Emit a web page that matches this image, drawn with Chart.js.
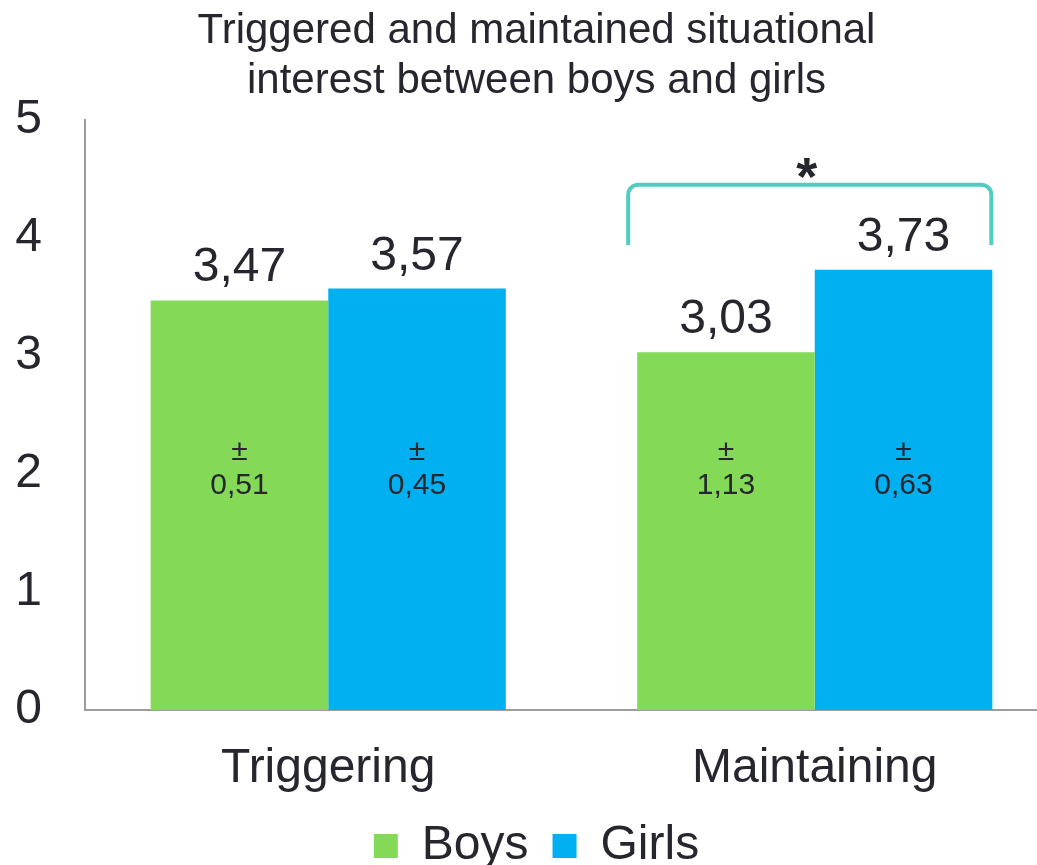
<!DOCTYPE html>
<html>
<head>
<meta charset="utf-8">
<script src="https://cdn.jsdelivr.net/npm/chart.js@4/dist/chart.umd.min.js"></script>
<style>
    html, body { margin: 0; padding: 0; overflow: hidden; background: #fff; }
    #wrap { width: 1087px; height: 880px; }
</style>
</head>
<body>
<div id="wrap"><canvas id="interestChart" width="1087" height="880"></canvas></div>
<script>
const categories = ['Triggering', 'Maintaining'];
const boysMeans = [3.47, 3.03];
const girlsMeans = [3.57, 3.73];
const boysSD = [0.51, 1.13];
const girlsSD = [0.45, 0.63];
const yTicks = [0, 1, 2, 3, 4, 5];

const textColor = '#26262e';
const fontFamily = '"Liberation Sans", Arial, sans-serif';

// value with a decimal comma, like the original
function fmt(v) {
    return v.toFixed(2).replace('.', ',');
}

const labelPlugin = {
    id: 'barLabels',
    afterDatasetsDraw(chart) {
        const ctx = chart.ctx;
        const yScale = chart.scales.y;
        const sds = [boysSD, girlsSD];
        const sdY = yScale.getPixelForValue(2.04);

        ctx.save();
        ctx.fillStyle = textColor;
        ctx.textAlign = 'center';

        chart.data.datasets.forEach((ds, di) => {
            chart.getDatasetMeta(di).data.forEach((bar, i) => {
                ctx.font = '48px ' + fontFamily;
                ctx.textBaseline = 'alphabetic';
                ctx.fillText(fmt(ds.data[i]), bar.x, bar.y - 19);

                ctx.font = '30px ' + fontFamily;
                ctx.textBaseline = 'middle';
                ctx.fillText('±', bar.x, sdY - 17);
                ctx.fillText(fmt(sds[di][i]), bar.x, sdY + 17);
            });
        });

        // significance bracket over Maintaining
        const boyBar = chart.getDatasetMeta(0).data[1];
        const girlBar = chart.getDatasetMeta(1).data[1];
        const x1 = boyBar.x - boyBar.width / 2 - 9;
        const x2 = girlBar.x + girlBar.width / 2 - 1;
        const yt = yScale.getPixelForValue(4.45);
        const yb = yScale.getPixelForValue(3.94);
        const r = 10;

        ctx.strokeStyle = '#50cdbf';
        ctx.lineWidth = 4;
        ctx.beginPath();
        ctx.moveTo(x1, yb);
        ctx.lineTo(x1, yt + r);
        ctx.arcTo(x1, yt, x1 + r, yt, r);
        ctx.lineTo(x2 - r, yt);
        ctx.arcTo(x2, yt, x2, yt + r, r);
        ctx.lineTo(x2, yb);
        ctx.stroke();

        ctx.font = 'bold 54px ' + fontFamily;
        ctx.textBaseline = 'alphabetic';
        ctx.fillText('*', (x1 + x2) / 2 - 3, yt + 10);
        ctx.restore();
    }
};

const ctx = document.getElementById('interestChart').getContext('2d');
new Chart(ctx, {
    type: 'bar',
    data: {
        labels: categories,
        datasets: [
            { label: 'Boys', data: boysMeans, backgroundColor: '#84d957' },
            { label: 'Girls', data: girlsMeans, backgroundColor: '#00b0f0' }
        ]
    },
    options: {
        responsive: false,
        animation: false,
        devicePixelRatio: 1,
        layout: { padding: { left: 15, right: 29, top: 0, bottom: 0 } },
        datasets: {
            bar: { categoryPercentage: 0.73, barPercentage: 1.0 }
        },
        scales: {
            x: {
                grid: { display: false, drawTicks: false },
                border: { display: true, color: '#9c9c9c', width: 2 },
                ticks: {
                    padding: 30,
                    color: textColor,
                    font: { family: fontFamily, size: 48 }
                },
                afterFit(scale) {
                    scale.height = 88;
                }
            },
            y: {
                min: 0,
                max: 5,
                afterBuildTicks(scale) {
                    scale.ticks = yTicks.map(v => ({ value: v }));
                },
                grid: { display: false, drawTicks: false },
                border: { display: true, color: '#9c9c9c', width: 2 },
                ticks: {
                    padding: 43,
                    color: textColor,
                    font: { family: fontFamily, size: 48 }
                },
                afterFit(scale) {
                    scale.width = 70;
                }
            }
        },
        plugins: {
            title: {
                display: true,
                text: ['Triggered and maintained situational', 'interest between boys and girls'],
                color: textColor,
                font: { family: fontFamily, size: 42, weight: 'normal', lineHeight: 1.2 },
                padding: { top: 6, bottom: 13 }
            },
            legend: {
                position: 'bottom',
                labels: {
                    boxWidth: 24,
                    boxHeight: 24,
                    padding: 24,
                    color: textColor,
                    font: { family: fontFamily, size: 48 }
                }
            },
            tooltip: { enabled: false }
        }
    },
    plugins: [labelPlugin]
});
</script>
</body>
</html>
